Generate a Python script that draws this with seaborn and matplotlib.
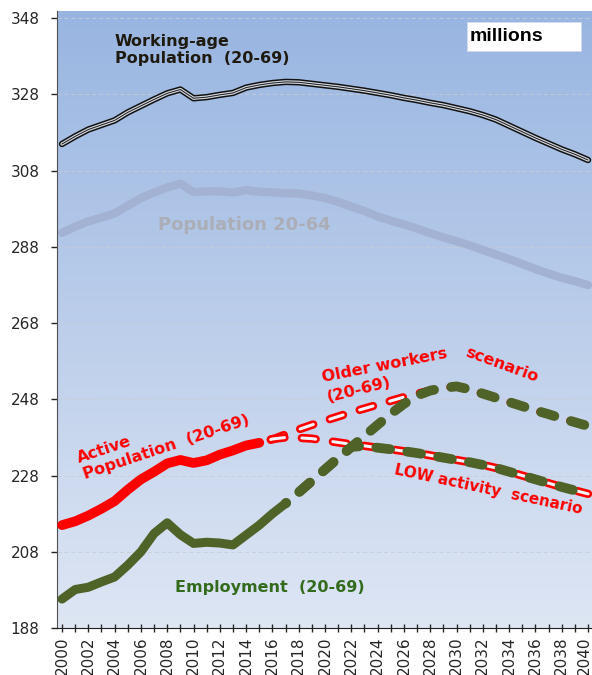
import matplotlib
matplotlib.use("Agg")
import matplotlib.pyplot as plt
import matplotlib.patheffects as pe
from matplotlib.patches import Rectangle
from matplotlib.transforms import ScaledTranslation
import numpy as np
import seaborn as sns

# %% data (millions)
years = list(range(2000, 2041))
working_age = [315.0, 317.0, 318.8, 320.0, 321.2, 323.3, 325.0, 326.7, 328.3, 329.3,
               327.0, 327.3, 327.9, 328.4, 329.8, 330.5, 331.0, 331.3, 331.2, 330.8,
               330.4, 330.0, 329.5, 329.0, 328.4, 327.8, 327.1, 326.5, 325.8, 325.2,
               324.4, 323.6, 322.6, 321.4, 319.8, 318.2, 316.6, 315.1, 313.6, 312.3,
               310.8]
pop_20_64 = [291.7, 293.3, 294.7, 295.7, 296.8, 298.8, 300.8, 302.3, 303.6, 304.6,
             302.4, 302.6, 302.6, 302.3, 302.9, 302.5, 302.3, 302.1, 302.0, 301.5,
             300.8, 299.8, 298.6, 297.4, 296.0, 294.9, 293.9, 292.8, 291.6, 290.5,
             289.5, 288.4, 287.2, 286.0, 284.8, 283.5, 282.2, 281.0, 279.9, 279.0,
             278.0]

active_years = list(range(2000, 2016))
active = [215.0, 216.0, 217.5, 219.3, 221.3, 224.3, 227.0, 229.0, 231.2, 232.1,
          231.3, 232.0, 233.5, 234.6, 235.9, 236.6]

scen_years = list(range(2015, 2041))
older_workers = [236.6, 237.5, 238.8, 240.1, 241.3, 242.4, 243.5, 244.6, 245.6, 246.6,
                 247.6, 248.6, 249.5, 250.3, 251.0, 251.4, 250.6, 249.5, 248.4, 247.3,
                 246.2, 245.1, 244.1, 243.0, 242.0, 241.0]
low_activity = [236.6, 237.6, 238.0, 237.9, 237.7, 237.2, 236.7, 236.2, 235.8, 235.3,
                234.9, 234.4, 233.9, 233.3, 232.7, 232.1, 231.5, 230.8, 230.0, 229.0,
                228.0, 227.0, 226.0, 225.0, 224.1, 223.2]

emp_years = list(range(2000, 2018))
employment = [195.6, 198.1, 198.7, 200.1, 201.4, 204.5, 208.0, 212.8, 215.6, 212.5,
              210.2, 210.5, 210.3, 209.8, 212.4, 215.0, 218.0, 220.7]

proj_years = list(range(2017, 2041))
emp_high = [220.7, 223.6, 226.6, 229.6, 232.6, 235.5, 238.4, 241.3, 244.2, 246.8,
            249.0, 250.3, 251.0, 251.4, 250.6, 249.5, 248.4, 247.3, 246.2, 245.1,
            244.1, 243.0, 242.0, 241.0]
emp_low = [220.7, 223.6, 226.6, 229.6, 232.6, 235.5, 235.8, 235.3, 234.9, 234.4,
           233.9, 233.3, 232.7, 232.1, 231.5, 230.8, 230.0, 229.0, 228.0, 227.0,
           226.0, 225.0, 224.1, 223.2]

yticks = list(range(188, 349, 20))

# %% style
sns.set_style("ticks")
plt.rcParams["font.family"] = ["DejaVu Sans"]
plt.rcParams["lines.scale_dashes"] = False

RED = "#ff0000"
GREEN = "#4f6228"

fig = plt.figure(figsize=(5.92, 6.75), dpi=100)
ax = fig.add_axes([0.0963, 0.0696, 0.9037, 0.9141])

# blue gradient plot area
grad = np.linspace(0, 1, 256).reshape(-1, 1)
top = np.array([0.596, 0.710, 0.882])
bottom = np.array([0.871, 0.902, 0.957])
img = top + (bottom - top) * grad[:, :, None]
ax.imshow(img, extent=[0, 1, 0, 1], transform=ax.transAxes, aspect="auto", zorder=0)

# %% lines
sns.lineplot(x=years, y=pop_20_64, ax=ax, color="#a3b2d3", lw=6, solid_capstyle="round", zorder=2)
sns.lineplot(x=years, y=working_age, ax=ax, color="#1a1a1a", lw=0.7, solid_capstyle="round", zorder=3,
             path_effects=[pe.Stroke(linewidth=4.6, foreground="#111111"),
                           pe.Stroke(linewidth=2.4, foreground="#d3d7e0"), pe.Normal()])

sns.lineplot(x=active_years, y=active, ax=ax, color=RED, lw=7, solid_capstyle="round", zorder=4)
hollow = [pe.Stroke(linewidth=6, foreground=RED), pe.Normal()]
for vals in (older_workers, low_activity):
    sns.lineplot(x=scen_years, y=vals, ax=ax, color="#f2f4fa", lw=2.2,
                 linestyle=(13.9, (10, 12.5)), dash_capstyle="round",
                 path_effects=hollow, zorder=4)

sns.lineplot(x=emp_years, y=employment, ax=ax, color=GREEN, lw=6.5, solid_capstyle="round", zorder=5)
for vals in (emp_low, emp_high):
    sns.lineplot(x=proj_years, y=vals, ax=ax, color=GREEN, lw=7,
                 linestyle=(9.5, (10, 12.5)), dash_capstyle="round", zorder=5)

# %% axes
ax.set_xlim(1999.62, 2040.3)
ax.set_ylim(188, 349.9)
ax.set_yticks(yticks)
ax.set_xticks(years)
ax.set_xticklabels([str(y) if y % 2 == 0 else "" for y in years])
ax.set_axisbelow(True)
ax.yaxis.grid(True, color="#c8ccd6", lw=0.6, linestyle=(0, (3, 2)))
ax.xaxis.grid(False)
for side in ("top", "right"):
    ax.spines[side].set_visible(False)
ax.spines["left"].set_color("#505050")
ax.spines["bottom"].set_color("#202020")
ax.tick_params(axis="y", direction="out", length=4.5, width=1, pad=8, labelsize=11)
ax.tick_params(axis="x", direction="inout", length=6, width=1, pad=3, labelsize=11, labelrotation=90)

# last label sits on the figure edge; nudge it in a little so it is not clipped
last = ax.get_xticklabels()[-1]
last.set_transform(last.get_transform() + ScaledTranslation(-4 / 100, 0, fig.dpi_scale_trans))

# %% annotations
ax.text(2004.0, 339.6, "Working-age\nPopulation  (20-69)", ha="left", va="center",
        fontsize=11.5, fontweight="bold", color="#1f1a10", zorder=6)
ax.text(2007.3, 293.7, "Population 20-64", ha="left", va="center",
        fontsize=13, fontweight="bold", color="#abaeb6", zorder=6)
ax.text(2007.7, 237.6, "Active\nPopulation  (20-69)", ha="center", va="center",
        multialignment="left", rotation=18.5, rotation_mode="anchor",
        fontsize=11.5, fontweight="bold", color=RED, zorder=6)
ax.text(2024.5, 257.0, "Older workers", ha="center", va="center", rotation=11,
        rotation_mode="anchor", fontsize=11.5, fontweight="bold", color=RED, zorder=6)
ax.text(2022.6, 250.6, "(20-69)", ha="center", va="center", rotation=14,
        rotation_mode="anchor", fontsize=11.5, fontweight="bold", color=RED, zorder=6)
ax.text(2033.4, 257.0, "scenario", ha="center", va="center", rotation=-20,
        rotation_mode="anchor", fontsize=11.5, fontweight="bold", color=RED, zorder=6)
ax.text(2032.4, 224.2, "LOW activity  scenario", ha="center", va="center", rotation=-12,
        rotation_mode="anchor", fontsize=11, fontweight="bold", color=RED, zorder=6)
ax.text(2015.8, 198.75, "Employment  (20-69)", ha="center", va="center",
        fontsize=11.5, fontweight="bold", color="#336b1d", zorder=6)

ax.add_patch(Rectangle((0.766, 0.935), 0.213, 0.047, transform=ax.transAxes,
                       facecolor="white", edgecolor="#d5dcea", lw=0.5, zorder=6))
ax.text(0.772, 0.958, "millions", transform=ax.transAxes, ha="left", va="center",
        fontsize=14, fontweight="bold", family="Liberation Sans", color="black", zorder=7)

fig.savefig("out.png", dpi=100)
